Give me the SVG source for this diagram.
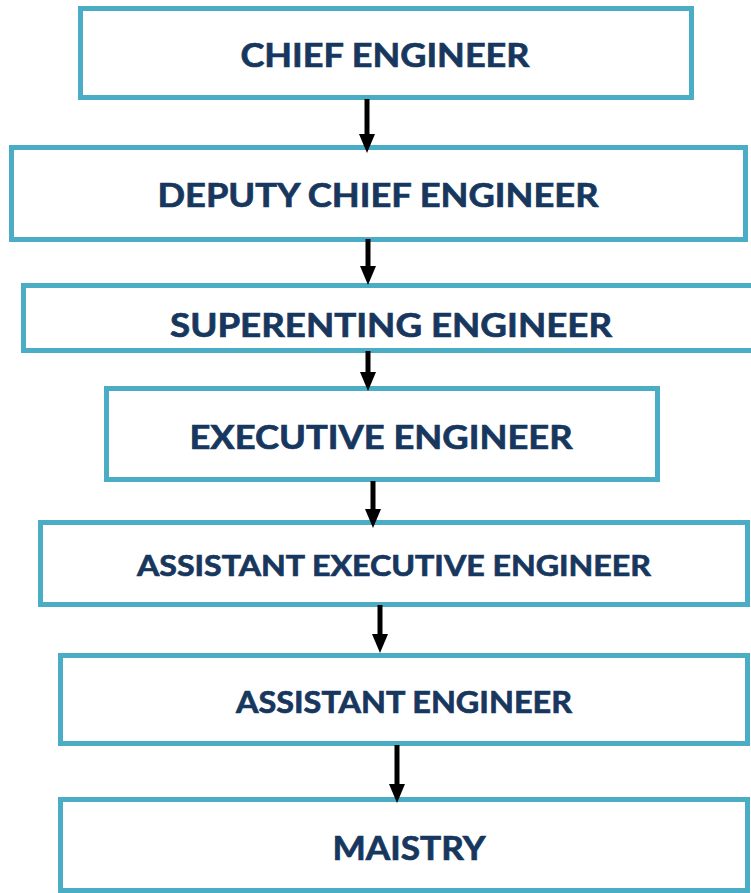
<svg xmlns="http://www.w3.org/2000/svg" width="751" height="893" viewBox="0 0 751 893">
<style>
.box{fill:#fff;stroke:#4BACC6;stroke-width:5}
.t{font-family:Lato,"Open Sans","Liberation Sans",sans-serif;font-weight:bold;fill:#17375E;stroke:#17375E;stroke-width:0.7;text-anchor:middle}
.a{stroke:#000;stroke-width:5;fill:none}
</style>
<defs>
<marker id="ah" markerWidth="19" markerHeight="16" refX="0" refY="8" markerUnits="userSpaceOnUse" orient="auto" viewBox="0 0 19 16">
<path d="M0 0 L19 8 L0 16 Z" fill="#000"/>
</marker>
</defs>
<g id="n1"><rect class="box" x="80.5" y="8.5" width="611" height="89"/><text class="t" x="385" y="67" font-size="33" textLength="289" lengthAdjust="spacingAndGlyphs">CHIEF ENGINEER</text></g>
<g id="n2"><rect class="box" x="11.5" y="147.5" width="734" height="92"/><text class="t" x="378" y="207" font-size="33" textLength="441" lengthAdjust="spacingAndGlyphs">DEPUTY CHIEF ENGINEER</text></g>
<g id="n3"><rect class="box" x="23.5" y="285.5" width="740" height="65"/><text class="t" x="391" y="337" font-size="33" textLength="442" lengthAdjust="spacingAndGlyphs">SUPERENTING ENGINEER</text></g>
<g id="n4"><rect class="box" x="106.5" y="388.5" width="551" height="91"/><text class="t" x="381" y="449" font-size="33" textLength="383" lengthAdjust="spacingAndGlyphs">EXECUTIVE ENGINEER</text></g>
<g id="n5"><rect class="box" x="40.5" y="522.5" width="707" height="82"/><text class="t" x="394" y="576" font-size="29" textLength="514" lengthAdjust="spacingAndGlyphs">ASSISTANT EXECUTIVE ENGINEER</text></g>
<g id="n6"><rect class="box" x="60.5" y="655.5" width="687" height="88"/><text class="t" x="404" y="713" font-size="30" textLength="336" lengthAdjust="spacingAndGlyphs">ASSISTANT ENGINEER</text></g>
<g id="n7"><rect class="box" x="60.5" y="799.5" width="687" height="91"/><text class="t" x="409" y="860" font-size="33" textLength="153" lengthAdjust="spacingAndGlyphs">MAISTRY</text></g>
<g id="connectors">
<line class="a" x1="367" y1="99" x2="367" y2="134" marker-end="url(#ah)"/>
<line class="a" x1="368" y1="239" x2="368" y2="266" marker-end="url(#ah)"/>
<line class="a" x1="368" y1="351" x2="368" y2="372" marker-end="url(#ah)"/>
<line class="a" x1="373" y1="481" x2="373" y2="509" marker-end="url(#ah)"/>
<line class="a" x1="380" y1="605" x2="380" y2="634" marker-end="url(#ah)"/>
<line class="a" x1="397" y1="745" x2="397" y2="784" marker-end="url(#ah)"/>
</g>
</svg>
